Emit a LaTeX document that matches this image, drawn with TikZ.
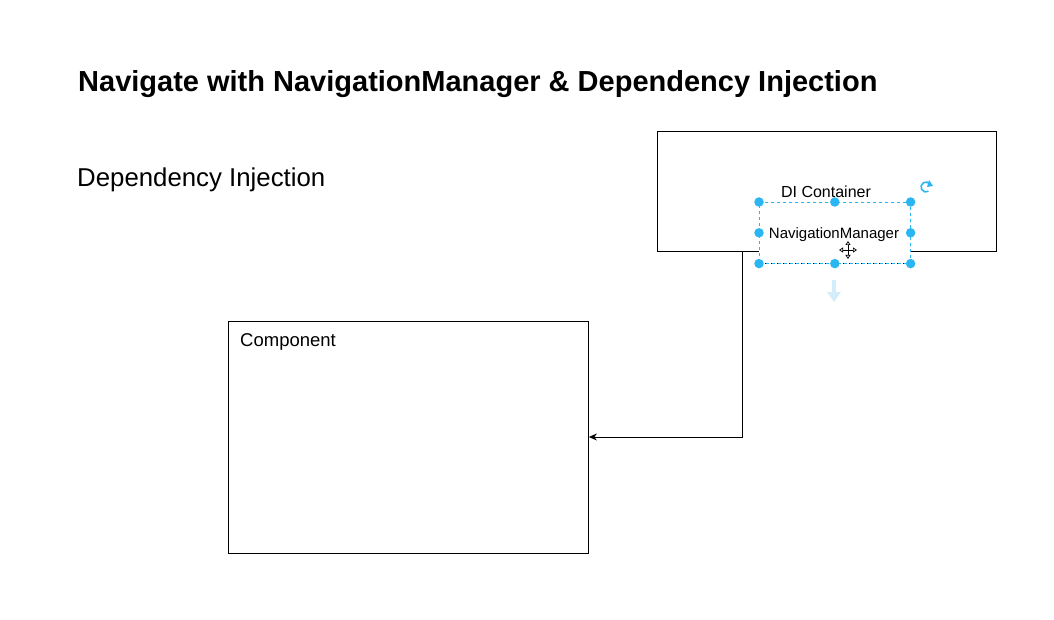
\documentclass[tikz,border=0pt]{standalone}
\usepackage{fontspec}
\setmainfont{Liberation Sans}
\usetikzlibrary{arrows.meta,calc}
\definecolor{selblue}{HTML}{29B6F2}
\definecolor{faintblue}{HTML}{D4EDFB}
\tikzset{
  box/.style={draw=black, line width=0.9pt, fill=white, inner sep=0pt},
  handle/.style={circle, fill=selblue, inner sep=0pt, minimum size=9.5pt},
  lbl/.style={inner sep=0pt, anchor=base west},
  conn/.style={draw=black, line width=0.9pt, -{Stealth[length=8pt,width=7pt]}}
}
\begin{document}
\begin{tikzpicture}[x=1pt, y=-1pt]
\useasboundingbox (0,0) rectangle (1054,620);
\fill[white] (0,0) rectangle (1054,620);
% titles
\node[lbl] (title) at (78,92) {\fontsize{29}{34}\selectfont\bfseries Navigate with NavigationManager \& Dependency Injection};
\node[lbl] (sub) at (77,187) {\fontsize{25.8}{30}\selectfont Dependency Injection};
% DI container
\node[box, minimum width=339pt, minimum height=120pt, anchor=north west] (di) at (657,131) {};
\node[inner sep=0pt] (dilbl) at (826,192) {\fontsize{16}{19}\selectfont DI Container};
% Navigation manager (selected)
\node[fill=white, draw=black, dashed, line width=0.6pt, minimum width=151pt, minimum height=61pt, inner sep=0pt, anchor=north west] (nav) at (759,202) {};
\draw[selblue, dashed, line width=0.5pt, dash phase=3pt] (nav.north west) rectangle (nav.south east);
\node[inner sep=0pt] (navlbl) at (834,235) {\fontsize{15}{18}\selectfont NavigationManager};
\foreach \a/\n in {north west/h1, north/h2, north east/h3, west/h4, east/h5, south west/h6, south/h7, south east/h8}
  \node[handle] (\n) at (nav.\a) {};
% rotate icon
\coordinate (rot) at (926,187);
\draw[selblue, line width=1.6pt] ($(rot)+(60:5)$) arc[start angle=60, end angle=330, radius=5];
\fill[selblue] (929,180) -- (933,186) -- (927,187) -- cycle;
% faint arrow
\fill[faintblue] (832,280) rectangle (836,294);
\fill[faintblue] (827,292) -- (841,292) -- (834,302) -- cycle;
% move cursor
\coordinate (cur) at (848,250);
\begin{scope}[line width=0.7pt]
  \draw[{Triangle[open,length=4pt,width=5pt]}-{Triangle[open,length=4pt,width=5pt]}] (839,250) -- (857,250);
  \draw[{Triangle[open,length=4pt,width=5pt]}-{Triangle[open,length=4pt,width=5pt]}] (848,241) -- (848,259);
\end{scope}
% component
\node[box, minimum width=360pt, minimum height=232pt, anchor=north west] (comp) at (228,321) {};
\node[lbl] (complbl) at (240,346) {\fontsize{18.5}{22}\selectfont Component};
% connector
\coordinate (start) at (742,251);
\draw[conn] (start) -- (742,437) -- (comp.east |- 0,437);
\end{tikzpicture}
\end{document}
